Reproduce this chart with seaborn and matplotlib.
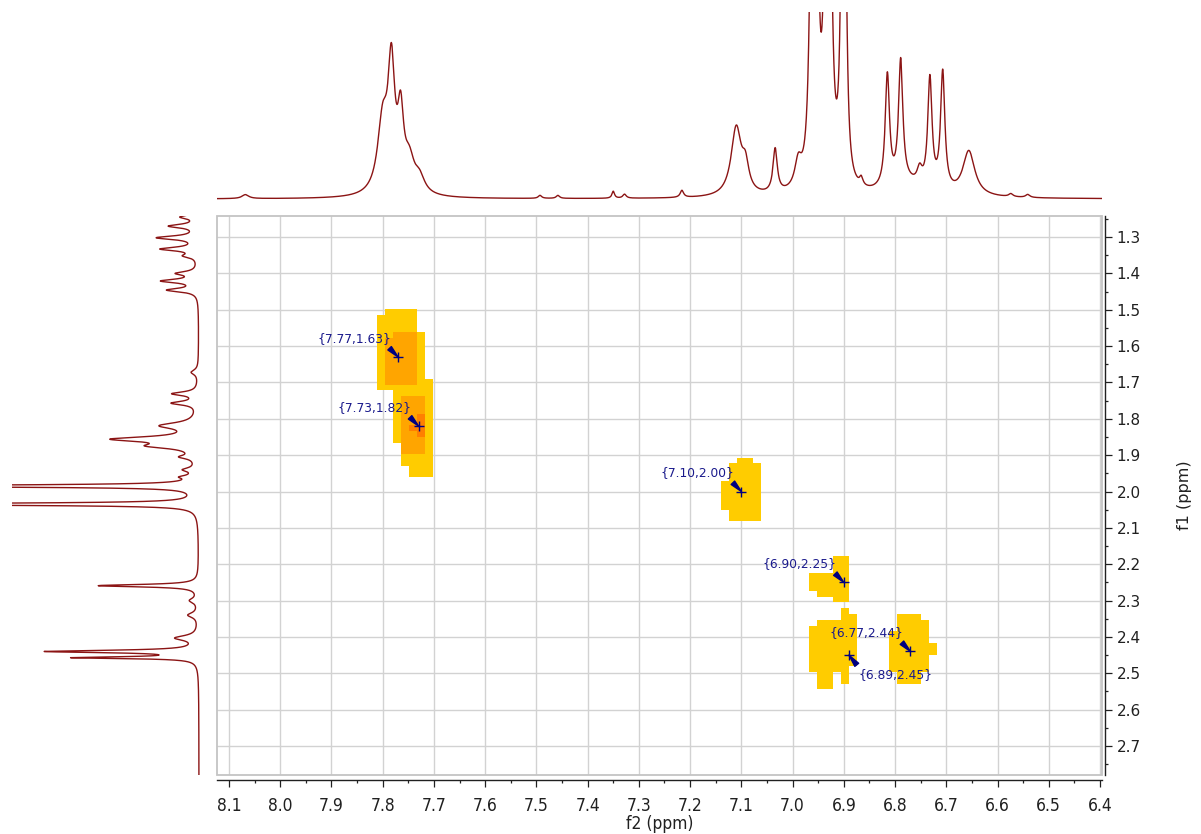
import numpy as np
import pandas as pd
import matplotlib
matplotlib.use("Agg")
import matplotlib.pyplot as plt
from matplotlib.colors import ListedColormap, BoundaryNorm
from matplotlib.patches import Rectangle
from matplotlib.ticker import MultipleLocator, FormatStrFormatter
import seaborn as sns

# ---------------- data ----------------
# picked cross peaks (f2, f1) in ppm
peak_f2 = [7.77, 7.73, 7.10, 6.90, 6.77, 6.89]
peak_f1 = [1.63, 1.82, 2.00, 2.25, 2.44, 2.45]
peak_labels = ["{7.77,1.63}", "{7.73,1.82}", "{7.10,2.00}",
               "{6.90,2.25}", "{6.77,2.44}", "{6.89,2.45}"]
label_side = ["ul", "ul", "ul", "ul", "ul", "lr"]

# f2 (top) 1D projection: peak table (ppm, height a.u., half width ppm)
top_ppm = [8.068, 7.800, 7.783, 7.765, 7.748, 7.728, 7.493, 7.458, 7.350,
           7.328, 7.216, 7.110, 7.092, 7.034, 6.989,
           6.963, 6.953, 6.935, 6.927, 6.903, 6.897,
           6.866, 6.815, 6.789, 6.780, 6.752, 6.732, 6.707, 6.656, 6.574, 6.541]
top_height = [4, 70, 120, 70, 30, 15, 3, 3, 7,
              4, 7, 68, 25, 44, 25,
              260, 260, 260, 260, 280, 200,
              8, 112, 122, 12, 15, 110, 118, 45, 3, 3]
top_hwhm = [0.008, 0.012, 0.008, 0.007, 0.012, 0.012, 0.004, 0.004, 0.003,
            0.004, 0.004, 0.012, 0.008, 0.005, 0.008,
            0.005, 0.005, 0.005, 0.005, 0.004, 0.004,
            0.004, 0.005, 0.005, 0.040, 0.006, 0.005, 0.005, 0.014, 0.005, 0.005]

# f1 (left) 1D projection: peak table
left_ppm = [1.245, 1.270, 1.302, 1.333, 1.352, 1.400, 1.421, 1.446, 1.672,
            1.731, 1.757, 1.819, 1.856, 1.875, 1.905, 1.940, 1.960, 1.985,
            2.035, 2.259, 2.300, 2.340, 2.403, 2.440, 2.457]
left_height = [17, 28, 40, 36, 12, 20, 35, 30, 7,
               25, 25, 35, 80, 40, 14, 12, 12, 400,
               400, 100, 8, 10, 22, 150, 120]
left_hwhm = [0.006, 0.006, 0.006, 0.006, 0.006, 0.006, 0.006, 0.006, 0.008,
             0.006, 0.006, 0.010, 0.008, 0.008, 0.006, 0.006, 0.005, 0.003,
             0.003, 0.004, 0.008, 0.008, 0.008, 0.004, 0.003]

# 2D contour intensity blocks (levels 0..3) on the digitised grid
cell_f2 = 0.01561
cell_f1 = 0.01595
blockA_origin = (7.8112, 1.4988)
blockA_levels = [
    [0, 1, 1, 1, 1, 0, 0],
    [1, 1, 1, 1, 1, 0, 0],
    [1, 1, 1, 1, 1, 0, 0],
    [1, 1, 1, 1, 1, 0, 0],
    [1, 1, 2, 2, 2, 1, 0],
    [1, 2, 2, 2, 2, 1, 0],
    [1, 2, 2, 2, 2, 1, 0],
    [1, 2, 2, 2, 2, 1, 0],
    [1, 2, 2, 2, 2, 1, 0],
    [1, 2, 2, 2, 2, 1, 0],
    [1, 2, 2, 2, 2, 1, 0],
    [1, 2, 2, 2, 2, 1, 0],
    [1, 2, 2, 2, 2, 1, 1],
    [1, 1, 1, 1, 1, 1, 1],
    [0, 0, 1, 1, 1, 1, 1],
    [0, 0, 1, 2, 2, 2, 1],
    [0, 0, 1, 2, 2, 2, 1],
    [0, 0, 1, 2, 2, 2, 1],
    [0, 0, 1, 2, 2, 3, 1],
    [0, 0, 1, 2, 2, 3, 1],
    [0, 0, 1, 2, 3, 3, 1],
    [0, 0, 1, 2, 2, 3, 1],
    [0, 0, 1, 2, 2, 2, 1],
    [0, 0, 0, 2, 2, 2, 1],
    [0, 0, 0, 2, 2, 2, 1],
    [0, 0, 0, 1, 1, 1, 1],
    [0, 0, 0, 1, 1, 1, 1],
    [0, 0, 0, 0, 1, 1, 1],
    [0, 0, 0, 0, 1, 1, 1],
]
blockB_origin = (7.1398, 1.9070)
blockB_levels = [
    [0, 0, 1, 1, 0],
    [0, 1, 1, 1, 1],
    [0, 1, 1, 1, 1],
    [0, 1, 1, 1, 1],
    [1, 1, 1, 1, 1],
    [1, 1, 1, 1, 1],
    [1, 1, 1, 1, 1],
    [1, 1, 1, 1, 1],
    [1, 1, 1, 1, 1],
    [0, 1, 1, 1, 1],
    [0, 1, 1, 1, 1],
]
blockC_origin = (6.9681, 2.1773)
blockC_levels = [
    [0, 0, 0, 1, 1],
    [0, 0, 0, 1, 1],
    [0, 0, 0, 1, 1],
    [1, 1, 1, 1, 1],
    [1, 1, 1, 1, 1],
    [1, 1, 1, 1, 1],
    [0, 1, 1, 1, 1],
    [0, 0, 0, 1, 1],
]
blockD_origin = (6.9681, 2.3212)
blockD_levels = [
    [0, 0, 0, 0, 1, 0],
    [0, 0, 0, 0, 1, 1],
    [0, 1, 1, 1, 1, 1],
    [1, 1, 1, 1, 1, 1],
    [1, 1, 1, 1, 1, 1],
    [1, 1, 1, 1, 1, 1],
    [1, 1, 1, 1, 1, 1],
    [1, 1, 1, 1, 1, 1],
    [1, 1, 1, 1, 1, 1],
    [1, 1, 1, 1, 1, 1],
    [1, 1, 1, 1, 1, 0],
    [0, 1, 1, 0, 1, 0],
    [0, 1, 1, 0, 1, 0],
    [0, 1, 1, 0, 0, 0],
]
blockE_origin = (6.8119, 2.3369)
blockE_levels = [
    [0, 1, 1, 1, 0, 0],
    [0, 1, 1, 1, 1, 0],
    [0, 1, 1, 1, 1, 0],
    [1, 1, 1, 1, 1, 0],
    [1, 1, 1, 1, 1, 0],
    [1, 1, 1, 1, 1, 1],
    [1, 1, 1, 1, 1, 1],
    [1, 1, 1, 1, 1, 0],
    [1, 1, 1, 1, 1, 0],
    [1, 1, 1, 1, 1, 0],
    [0, 1, 1, 1, 0, 0],
    [0, 1, 1, 1, 0, 0],
]
blocks = [(blockA_origin, blockA_levels), (blockB_origin, blockB_levels),
          (blockC_origin, blockC_levels), (blockD_origin, blockD_levels),
          (blockE_origin, blockE_levels)]

# ---------------- style ----------------
sns.set_theme(style="white")
plt.rcParams["font.family"] = ["DejaVu Sans"]
W, H = 1201, 834
fig = plt.figure(figsize=(W / 100, H / 100), dpi=100)

def fpos(x0, y0, x1, y1):
    return [x0 / W, 1 - y1 / H, (x1 - x0) / W, (y1 - y0) / H]

X_LIM = (8.1234, 6.3961)
Y_LIM = (2.7798, 1.2422)
spec_col = "#8b1414"
navy = "#000080"
NARROW = ["Liberation Sans Narrow", "DejaVu Sans"]

ax = fig.add_axes(fpos(217, 216, 1102, 775))
axt = fig.add_axes(fpos(217, 11.7, 1102, 205))
axl = fig.add_axes(fpos(12, 216, 215, 775))

# ---- 2D blocks ----
cmap = ListedColormap(["#FFCC00", "#FFA500", "#FF8000"])
norm = BoundaryNorm([0.5, 1.5, 2.5, 3.5], 3)
for (x0, y0), lv in blocks:
    arr = np.array(lv, dtype=float)
    nr, nc = arr.shape
    xe = x0 - cell_f2 * np.arange(nc + 1)
    ye = y0 + cell_f1 * np.arange(nr + 1)
    ax.pcolormesh(xe, ye, np.ma.masked_equal(arr, 0), cmap=cmap, norm=norm,
                  shading="flat", zorder=1, linewidth=0, antialiased=False)

# ---- cross markers and labels ----
pk = pd.DataFrame({"f2": peak_f2, "f1": peak_f1})
sns.scatterplot(data=pk, x="f2", y="f1", marker="+", s=60, color=navy,
                linewidth=1.0, ax=ax, zorder=4, legend=False)
for x, y, t, side in zip(peak_f2, peak_f1, peak_labels, label_side):
    if side == "ul":
        off, ha, va, rp = (-7, 12), "right", "bottom", (0.92, 0.1)
    else:
        off, ha, va, rp = (10, -13), "left", "top", (0.02, 0.9)
    ax.annotate(t, xy=(x, y), xytext=off, textcoords="offset pixels",
                ha=ha, va=va, fontsize=8.8, color="#1a1a8c", zorder=5,
                arrowprops=dict(arrowstyle="wedge,tail_width=0.4,shrink_factor=0.5",
                                color=navy, shrinkA=0, shrinkB=0, relpos=rp))

# ---- axes styling ----
ax.set_xlim(*X_LIM)
ax.set_ylim(*Y_LIM)
ax.xaxis.set_major_locator(MultipleLocator(0.1))
ax.xaxis.set_minor_locator(MultipleLocator(0.05))
ax.yaxis.set_major_locator(MultipleLocator(0.1))
ax.yaxis.set_minor_locator(MultipleLocator(0.05))
ax.xaxis.set_major_formatter(FormatStrFormatter("%.1f"))
ax.yaxis.set_major_formatter(FormatStrFormatter("%.1f"))
ax.set_axisbelow(True)
ax.grid(True, which="major", color="#d2d2d2", lw=1.0)
ax.set_facecolor("white")
for s in ["left", "top"]:
    ax.spines[s].set_visible(False)
ax.spines["bottom"].set_position(("outward", 3.6))
ax.spines["right"].set_position(("outward", 2.5))
for s in ["bottom", "right"]:
    ax.spines[s].set_color("#202020")
    ax.spines[s].set_linewidth(1.0)
ax.yaxis.tick_right()
ax.yaxis.set_label_position("right")
ax.tick_params(axis="x", which="major", direction="out", length=5, width=0.9,
               color="#202020", pad=7, labelsize=12.5, labelcolor="#202020",
               bottom=True, top=False)
ax.tick_params(axis="x", which="minor", direction="out", length=2.5, width=0.9,
               color="#202020", bottom=True)
ax.tick_params(axis="y", which="major", direction="out", length=5, width=0.9,
               color="#202020", pad=3, labelsize=11, labelcolor="#202020",
               right=True, left=False)
ax.tick_params(axis="y", which="minor", direction="out", length=2.5, width=0.9,
               color="#202020", right=True, left=False)
for lab in ax.get_xticklabels():
    lab.set_fontfamily(NARROW)
    lab.set_fontstretch("condensed")
ax.set_xlabel("f2 (ppm)", fontsize=12.5, color="#202020", labelpad=0,
              family=NARROW, fontstretch="condensed")
ax.set_ylabel("f1 (ppm)", fontsize=11.5, color="#202020", labelpad=26,
              rotation=90)
ax.add_patch(Rectangle((0, 0), 1, 1, transform=ax.transAxes, fill=False,
                       ec="#c4c4c4", lw=1.3, clip_on=False, zorder=6))

# ---- 1D projections ----
def spectrum(grid, centers, heights, widths):
    out = np.zeros_like(grid)
    for c, h, w in zip(centers, heights, widths):
        out += h / (1 + ((grid - c) / w) ** 2)
    return out

g2 = np.linspace(6.38, 8.14, 9000)
top_df = pd.DataFrame({"ppm": g2, "I": spectrum(g2, top_ppm, top_height, top_hwhm)})
sns.lineplot(data=top_df, x="ppm", y="I", ax=axt, color=spec_col, lw=1.0,
             estimator=None, sort=False)
axt.set_xlim(*X_LIM)
axt.set_ylim(-6, 187.3)

g1 = np.linspace(1.235, 2.785, 9000)
left_df = pd.DataFrame({"ppm": g1, "I": spectrum(g1, left_ppm, left_height, left_hwhm)})
sns.lineplot(data=left_df, x="I", y="ppm", ax=axl, color=spec_col, lw=1.0,
             estimator=None, sort=False, orient="y")
axl.set_ylim(*Y_LIM)
axl.set_xlim(187, -16)

for a in (axt, axl):
    a.set_axis_off()
    a.patch.set_alpha(0)

fig.savefig("out.png", dpi=100, facecolor="white")
